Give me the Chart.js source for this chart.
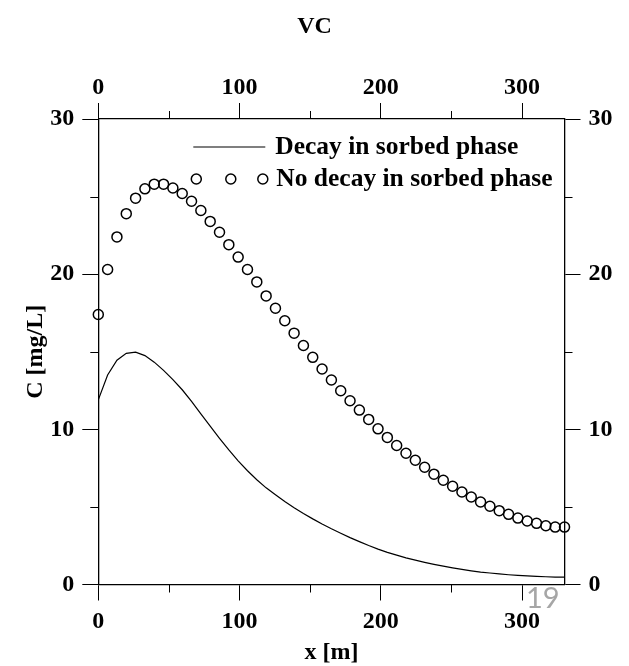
<!DOCTYPE html>
<html>
<head>
<meta charset="utf-8">
<script src="https://cdn.jsdelivr.net/npm/chart.js@4"></script>
<style>
    body { margin: 0; background: #fff; }
    #wrap { width: 629px; height: 666px; }
</style>
</head>
<body>
<div id="wrap"><canvas id="vcChart" width="629" height="666"></canvas></div>
<script>
// distance along the flow path [m]
const xValues = [0, 6.6, 13.2, 19.8, 26.4, 33, 39.6, 46.2, 52.8, 59.4, 66, 72.6, 79.2, 85.8, 92.4, 99,
    105.6, 112.2, 118.8, 125.4, 132, 138.6, 145.2, 151.8, 158.4, 165, 171.6, 178.2, 184.8, 191.4, 198,
    204.6, 211.2, 217.8, 224.4, 231, 237.6, 244.2, 250.8, 257.4, 264, 270.6, 277.2, 283.8, 290.4, 297,
    303.6, 310.2, 316.8, 323.4, 330];

// C [mg/L], decay in sorbed phase (solid line)
const decayValues = [11.9, 13.5, 14.45, 14.9, 14.97, 14.75, 14.33, 13.8, 13.2, 12.55, 11.8, 11.0,
    10.2, 9.42, 8.67, 7.97, 7.33, 6.75, 6.23, 5.78, 5.35, 4.95, 4.58, 4.23, 3.9, 3.59, 3.3, 3.02,
    2.76, 2.51, 2.28, 2.07, 1.89, 1.72, 1.57, 1.43, 1.3, 1.18, 1.07, 0.97, 0.88, 0.8, 0.74, 0.68,
    0.63, 0.59, 0.56, 0.53, 0.5, 0.48, 0.47];

// C [mg/L], no decay in sorbed phase (open circles)
const noDecayValues = [17.4, 20.3, 22.4, 23.9, 24.9, 25.5, 25.8, 25.8, 25.55, 25.2, 24.7, 24.1,
    23.4, 22.7, 21.9, 21.1, 20.3, 19.5, 18.6, 17.8, 17.0, 16.2, 15.4, 14.64, 13.89, 13.18, 12.49,
    11.84, 11.24, 10.64, 10.03, 9.48, 8.96, 8.46, 8.01, 7.56, 7.11, 6.72, 6.33, 5.96, 5.64, 5.32,
    5.04, 4.76, 4.52, 4.28, 4.09, 3.94, 3.79, 3.7, 3.7];

const seriesNames = ['Decay in sorbed phase', 'No decay in sorbed phase'];
const xMinorTicks = [50, 150, 250];
const yMinorTicks = [5, 15, 25];
const pageNumber = '19';

const serif = '"Liberation Serif", "Times New Roman", serif';
Chart.defaults.font.family = serif;
Chart.defaults.color = '#000';

function toPoints(ys) {
    return xValues.map((x, i) => ({ x: x, y: ys[i] }));
}

// short ticks between the labelled ones
const minorTicksPlugin = {
    id: 'minorTicks',
    afterDraw(chart) {
        const ctx = chart.ctx;
        const len = 8;
        ctx.save();
        ctx.strokeStyle = '#000';
        ctx.lineWidth = 1;
        ctx.beginPath();
        ['x', 'x2'].forEach(id => {
            const s = chart.scales[id];
            xMinorTicks.forEach(v => {
                const px = Math.round(s.getPixelForValue(v)) + 0.5;
                if (id === 'x') { ctx.moveTo(px, s.top); ctx.lineTo(px, s.top + len); }
                else { ctx.moveTo(px, s.bottom); ctx.lineTo(px, s.bottom - len); }
            });
        });
        ['y', 'y2'].forEach(id => {
            const s = chart.scales[id];
            yMinorTicks.forEach(v => {
                const py = Math.round(s.getPixelForValue(v)) + 0.5;
                if (id === 'y') { ctx.moveTo(s.right, py); ctx.lineTo(s.right - len, py); }
                else { ctx.moveTo(s.left, py); ctx.lineTo(s.left + len, py); }
            });
        });
        ctx.stroke();

        // slide number left over in the corner
        ctx.font = '29px Lato, "Open Sans", sans-serif';
        ctx.fillStyle = '#a6a6a6';
        ctx.textBaseline = 'top';
        ctx.textAlign = 'left';
        ctx.fillText(pageNumber, 526, 584);
        ctx.restore();
    }
};

// legend sits inside the plot, three circles for the symbol row
const insideLegendPlugin = {
    id: 'insideLegend',
    afterDatasetsDraw(chart) {
        const ctx = chart.ctx;
        const a = chart.chartArea;
        ctx.save();
        ctx.font = 'bold 25.5px ' + serif;
        ctx.fillStyle = '#000';
        ctx.textBaseline = 'middle';
        ctx.textAlign = 'left';

        const y1 = a.top + 28;
        ctx.strokeStyle = '#000';
        ctx.lineWidth = 1.2;
        ctx.beginPath();
        ctx.moveTo(a.left + 95, y1);
        ctx.lineTo(a.left + 167, y1);
        ctx.stroke();
        ctx.fillText(seriesNames[0], a.left + 177, y1);

        const y2 = a.top + 60;
        ctx.lineWidth = 1.5;
        [98, 132.5, 164.5].forEach(dx => {
            ctx.beginPath();
            ctx.arc(a.left + dx, y2, 5, 0, Math.PI * 2);
            ctx.stroke();
        });
        ctx.fillText(seriesNames[1], a.left + 178, y2);
        ctx.restore();
    }
};

function axis(position, min, max, step, pad) {
    return {
        type: 'linear',
        position: position,
        min: min,
        max: max,
        ticks: {
            stepSize: step,
            includeBounds: false,
            padding: pad,
            color: '#000',
            font: { size: 24, weight: 'bold' }
        },
        grid: {
            drawOnChartArea: false,
            drawTicks: true,
            tickLength: 16,
            tickColor: '#000',
            tickWidth: 1
        },
        border: { display: true, color: '#000', width: 1.3 }
    };
}

const xAxis = axis('bottom', 0, 330, 100, 7);
xAxis.title = { display: true, text: 'x [m]', font: { size: 24, weight: 'bold' }, padding: { top: 0, bottom: -1 } };
xAxis.afterFit = s => { s.height = 81.5; };

const x2Axis = axis('top', 0, 330, 100, 1);
x2Axis.afterFit = s => { s.height = 71.2; };

const yAxis = axis('left', 0, 30, 10, 8);
yAxis.title = { display: true, text: 'C [mg/L]', font: { size: 24, weight: 'bold' }, padding: { top: 21, bottom: 0 } };
yAxis.afterFit = s => { s.width = 98.3; };

const y2Axis = axis('right', 0, 30, 10, 8);
y2Axis.afterFit = s => { s.width = 64.5; };

const ctx = document.getElementById('vcChart').getContext('2d');
const vcChart = new Chart(ctx, {
    type: 'scatter',
    data: {
        datasets: [
            {
                label: seriesNames[0],
                data: toPoints(decayValues),
                showLine: true,
                borderColor: '#000',
                borderWidth: 1.2,
                pointRadius: 0,
                tension: 0,
                xAxisID: 'x',
                yAxisID: 'y'
            },
            {
                label: seriesNames[1],
                data: toPoints(noDecayValues),
                showLine: false,
                borderColor: '#000',
                backgroundColor: 'rgba(0,0,0,0)',
                borderWidth: 1.5,
                pointRadius: 5,
                pointStyle: 'circle',
                clip: false,
                xAxisID: 'x',
                yAxisID: 'y'
            }
        ]
    },
    options: {
        responsive: false,
        animation: false,
        layout: { padding: 0 },
        plugins: {
            legend: { display: false },
            tooltip: { enabled: false },
            title: {
                display: true,
                text: 'VC',
                color: '#000',
                font: { size: 24, weight: 'bold' },
                padding: { top: 12, bottom: 7 }
            }
        },
        scales: {
            x: xAxis,
            x2: x2Axis,
            y: yAxis,
            y2: y2Axis
        }
    },
    plugins: [minorTicksPlugin, insideLegendPlugin]
});
</script>
</body>
</html>
